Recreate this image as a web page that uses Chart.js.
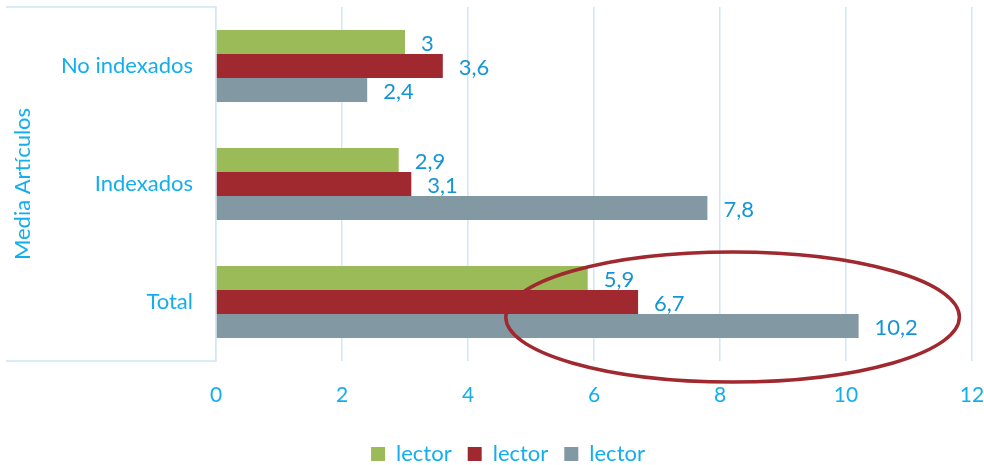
<!DOCTYPE html>
<html>
<head>
<meta charset="utf-8">
<script src="https://cdn.jsdelivr.net/npm/chart.js@4"></script>
<style>
  html, body { margin: 0; padding: 0; background: #fff; }
  #wrap { width: 984px; height: 465px; }
</style>
</head>
<body>
<div id="wrap"><canvas id="check"></canvas></div>
<script>
const categories = ["No indexados", "Indexados", "Total"];
const seriesNames = ["lector", "lector", "lector"];
const greenValues = [3, 2.9, 5.9];
const redValues = [3.6, 3.1, 6.7];
const grayValues = [2.4, 7.8, 10.2];
const xTicks = [0, 2, 4, 6, 8, 10, 12];

const axisBlue = "#12AEEF";
const labelBlue = "#1496D6";
const gridBlue = "#CDE8F8";

// value labels to the right of each bar, comma as decimal mark
const valueLabels = {
    id: "valueLabels",
    afterDatasetsDraw(chart) {
        const ctx = chart.ctx;
        ctx.save();
        ctx.font = "22px Lato";
        ctx.fillStyle = labelBlue;
        ctx.textBaseline = "middle";
        ctx.textAlign = "left";
        chart.data.datasets.forEach((ds, i) => {
            chart.getDatasetMeta(i).data.forEach((bar, j) => {
                const txt = String(ds.data[j]).replace(".", ",");
                ctx.fillText(txt, bar.x + 16, bar.y + 2);
            });
        });
        ctx.restore();
    }
};

// frame around the category labels + the red ellipse round "Total"
const decorations = {
    id: "decorations",
    afterLayout(chart) {
        // nudge the legend a bit right and up, like the original
        const lg = chart.legend;
        lg.left += 22; lg.right += 22;
        lg.top -= 5; lg.bottom -= 5;
    },
    beforeDatasetsDraw(chart) {
        const ctx = chart.ctx;
        const a = chart.chartArea;
        ctx.save();
        ctx.strokeStyle = gridBlue;
        ctx.lineWidth = 1.5;
        ctx.beginPath();
        ctx.moveTo(6, a.top);
        ctx.lineTo(a.left, a.top);
        ctx.moveTo(6, a.bottom);
        ctx.lineTo(a.left, a.bottom);
        ctx.stroke();
        ctx.restore();
    },
    afterDraw(chart) {
        const ctx = chart.ctx;
        const x = chart.scales.x;
        const y = chart.scales.y;
        const x1 = x.getPixelForValue(4.6);
        const x2 = x.getPixelForValue(11.8);
        const cy = y.getPixelForValue(2) + 15;
        ctx.save();
        ctx.strokeStyle = "#A0282F";
        ctx.lineWidth = 3.5;
        ctx.beginPath();
        ctx.ellipse((x1 + x2) / 2, cy, (x2 - x1) / 2, 65, 0, 0, Math.PI * 2);
        ctx.stroke();
        ctx.restore();
    }
};

function noEdgePadding(axis) {
    axis.paddingTop = 0;
    axis.paddingBottom = 0;
    axis.paddingLeft = 0;
    axis.paddingRight = 0;
}

const chartData = {
    type: "bar",
    data: {
        labels: categories,
        datasets: [
            { label: seriesNames[0], data: greenValues, backgroundColor: "#9BBB59" },
            { label: seriesNames[1], data: redValues, backgroundColor: "#A0282F" },
            { label: seriesNames[2], data: grayValues, backgroundColor: "#8298A3" }
        ]
    },
    options: {
        indexAxis: "y",
        responsive: true,
        maintainAspectRatio: false,
        animation: false,
        datasets: { bar: { barPercentage: 1, categoryPercentage: 0.61 } },
        layout: { padding: { top: 7, right: 12, left: 0, bottom: -15 } },
        plugins: {
            legend: {
                position: "bottom",
                labels: {
                    boxWidth: 14,
                    boxHeight: 14,
                    padding: 16,
                    color: axisBlue,
                    font: { family: "Lato", size: 22 }
                }
            },
            tooltip: { enabled: false }
        },
        scales: {
            x: {
                min: 0,
                max: 12,
                afterBuildTicks(axis) {
                    axis.ticks = xTicks.map(v => ({ value: v }));
                },
                grid: { color: gridBlue, lineWidth: 1.5, drawTicks: false },
                border: { display: false },
                ticks: { color: axisBlue, padding: 22, font: { family: "Lato", size: 21 } },
                afterFit(axis) { axis.height = 71; noEdgePadding(axis); }
            },
            y: {
                grid: { display: false, drawTicks: false },
                border: { display: true, color: gridBlue, width: 1.5 },
                ticks: { color: axisBlue, padding: 23, font: { family: "Lato", size: 22 } },
                title: {
                    display: true,
                    text: "Media Artículos",
                    color: axisBlue,
                    font: { family: "Lato", size: 22 },
                    padding: { top: 10, bottom: 0 }
                },
                afterFit(axis) { axis.width = 216; noEdgePadding(axis); }
            }
        }
    },
    plugins: [valueLabels, decorations]
};

const ctx = document.getElementById("check");
new Chart(ctx, chartData);
</script>
</body>
</html>
